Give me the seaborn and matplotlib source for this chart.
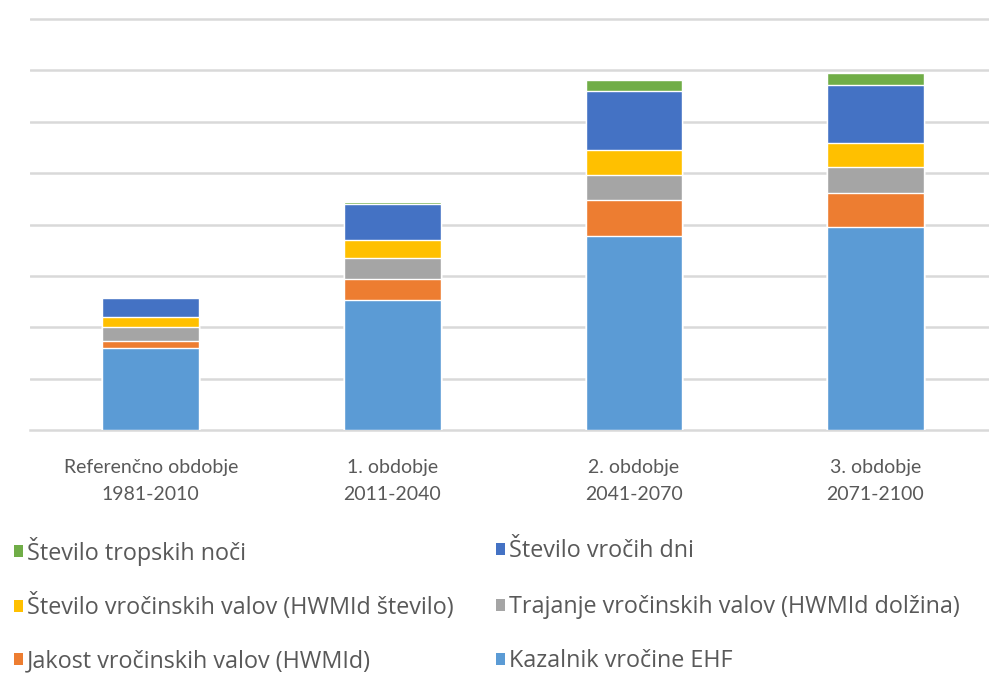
import pandas as pd
import seaborn as sns
import matplotlib.pyplot as plt
from matplotlib.patches import Patch

periods = ["Referenčno obdobje\n1981-2010", "1. obdobje\n2011-2040",
           "2. obdobje\n2041-2070", "3. obdobje\n2071-2100"]

# stacked components, bottom to top
ehf = [1.60, 2.53, 3.77, 3.95]
jakost = [0.13, 0.41, 0.70, 0.66]
trajanje = [0.27, 0.41, 0.49, 0.51]
stevilo_valov = [0.20, 0.35, 0.49, 0.46]
vroci_dnevi = [0.37, 0.70, 1.15, 1.13]
tropske_noci = [0.00, 0.04, 0.21, 0.24]

series = [
    ("Kazalnik vročine EHF", ehf, "#5b9bd5"),
    ("Jakost vročinskih valov (HWMId)", jakost, "#ed7d31"),
    ("Trajanje vročinskih valov (HWMId dolžina)", trajanje, "#a5a5a5"),
    ("Število vročinskih valov (HWMId število)", stevilo_valov, "#ffc000"),
    ("Število vročih dni", vroci_dnevi, "#4472c4"),
    ("Število tropskih noči", tropske_noci, "#70ad47"),
]

sns.set_theme(style="white")
plt.rcParams['font.family'] = ['Lato', 'DejaVu Sans']
text_color = "#595959"

fig = plt.figure(figsize=(9.89, 6.73), dpi=100)
ax = fig.add_axes([30 / 989, 1 - 430 / 673, 959 / 989, 430 / 673])

# cumulative heights, draw tallest first so the lower ones overlay it
df = pd.DataFrame({"period": periods})
running = [0.0] * len(periods)
layers = []
for name, vals, color in series:
    running = [r + v for r, v in zip(running, vals)]
    df[name] = running
    layers.append((name, color))

for name, color in reversed(layers):
    sns.barplot(data=df, x="period", y=name, color=color, width=0.4,
                saturation=1, ax=ax, zorder=3)

ax.set_xlim(-0.5, 3.47)
ax.set_ylim(0, 8.37)
ax.set_yticks(range(1, 9))
ax.yaxis.grid(True, color="#d9d9d9", linewidth=1.8, zorder=0)
ax.set_yticklabels([])
ax.tick_params(axis="y", length=0)
ax.tick_params(axis="x", length=0, pad=21, labelsize=14, labelcolor=text_color)
for lbl in ax.get_xticklabels():
    lbl.set_linespacing(1.7)
ax.set_xlabel("")
ax.set_ylabel("")
for side in ["top", "right", "left"]:
    ax.spines[side].set_visible(False)
ax.spines["bottom"].set_color("#d9d9d9")
ax.spines["bottom"].set_linewidth(1.8)

# legend: two columns, three rows, one entry per legend for exact placement
colors = {name: color for name, _, color in series}
legend_rows = [
    ("Število tropskih noči", 14, 551),
    ("Število vročinskih valov (HWMId število)", 14, 607),
    ("Jakost vročinskih valov (HWMId)", 14, 661),
    ("Število vročih dni", 496, 551),
    ("Trajanje vročinskih valov (HWMId dolžina)", 496, 607),
    ("Kazalnik vročine EHF", 496, 661),
]
for name, x0, y0 in legend_rows:
    fig.legend([Patch(facecolor=colors[name], edgecolor="none")], [name],
               loc="center left", bbox_to_anchor=(x0 / 989, 1 - y0 / 673),
               frameon=False, borderpad=0, borderaxespad=0,
               handlelength=0.4, handleheight=0.4, handletextpad=0.15,
               prop={"family": ["Open Sans", "DejaVu Sans"], "size": 16.8},
               labelcolor=text_color)

fig.savefig("out.png", dpi=100)
